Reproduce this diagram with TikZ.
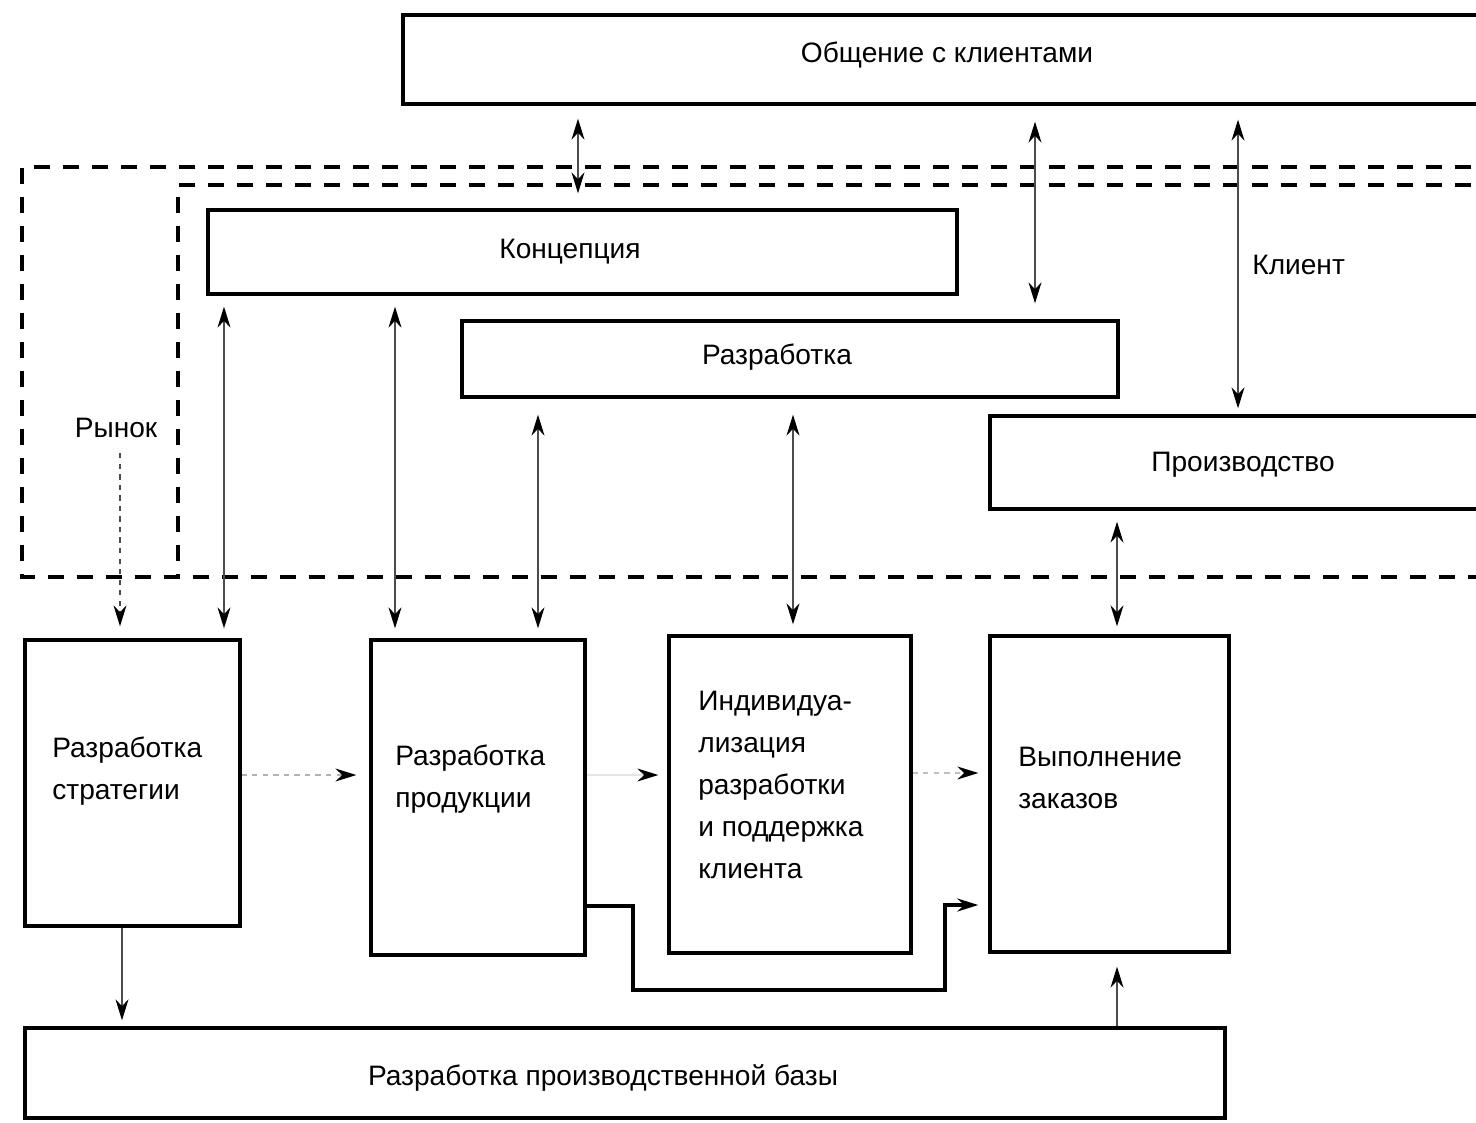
\documentclass[tikz,border=0pt]{standalone}
\usepackage{fontspec}
\setmainfont{Liberation Sans}
\usetikzlibrary{arrows.meta,fit}
\begin{document}
\begin{tikzpicture}[x=0.02cm,y=-0.02cm,
 box/.style={draw=black, line width=1.9pt, inner sep=0pt},
 lbl/.style={font=\fontsize{16}{24}\selectfont, inner sep=0pt, text=black},
 frame/.style={line width=2pt, dash pattern=on 0.32cm off 0.26cm},
 con/.style={draw=gray!60!black, line width=0.7pt},
 onearr/.style={-{Stealth[length=0.42cm,width=0.26cm,black]}},
 twoarr/.style={{Stealth[length=0.42cm,width=0.26cm,black]}-{Stealth[length=0.42cm,width=0.26cm,black]}},
]
\useasboundingbox (0,0) rectangle (1476,1122);
\clip (0,0) rectangle (1476,1122);

% dashed frames
\draw[frame] (1500,167) -- (22,167) -- (22,577) -- (1500,577);
\draw[frame] (1500,185) -- (178,185) -- (178,577);

% boxes
\node[box, fit={(403,15) (1520,104)}] (obsc) {};
\node[box, fit={(208,210) (957,294)}] (konc) {};
\node[box, fit={(462,321) (1118,397)}] (razr) {};
\node[box, fit={(990,416) (1520,509)}] (proizv) {};
\node[box, fit={(25,640) (240,926)}] (strat) {};
\node[box, fit={(371,640) (585,955)}] (prod) {};
\node[box, fit={(669,636) (911,953)}] (indiv) {};
\node[box, fit={(990,636) (1229,952)}] (vyp) {};
\node[box, fit={(25,1028) (1225,1118)}] (baza) {};

% texts
\node[lbl] (tobsc) at (947,55) {Общение с клиентами};
\node[lbl] (tkonc) at (570,252) {Концепция};
\node[lbl] (trazr) at (777,357) {Разработка};
\node[lbl] (tproizv) at (1243,465) {Производство};
\node[lbl, anchor=west] (tklient) at (1252,265) {Клиент};
\node[lbl] (rynok) at (116,428) {Рынок};
\node[lbl, anchor=west, align=left] (tstrat) at (52,771) {Разработка\\стратегии};
\node[lbl, anchor=west, align=left] (tprod) at (395,779) {Разработка\\продукции};
\node[lbl, anchor=west, align=left] (tindiv) at (698,785) {Индивидуа-\\лизация\\разработки\\и поддержка\\клиента};
\node[lbl, anchor=west, align=left] (tvyp) at (1018,778) {Выполнение\\заказов};
\node[lbl] (tbaza) at (603,1078) {Разработка производственной базы};

% vertical connectors
\draw[con, twoarr, shorten <=0.26cm, shorten >=0.3cm] (obsc.south -| 578,0) -- (konc.north -| 578,0);
\draw[con, twoarr, shorten <=0.32cm, shorten >=0.32cm] (obsc.south -| 1035,0) -- (razr.north -| 1035,0);
\draw[con, twoarr, shorten <=0.28cm, shorten >=0.12cm] (obsc.south -| 1238,0) -- (proizv.north -| 1238,0);
\draw[con, dashed, onearr, shorten <=0.3cm, shorten >=0.24cm] (rynok.south -| 120,0) -- (strat.north -| 120,0);
\draw[con, twoarr, shorten <=0.22cm, shorten >=0.2cm] (konc.south -| 224,0) -- (strat.north -| 224,0);
\draw[con, twoarr, shorten <=0.22cm, shorten >=0.2cm] (konc.south -| 395,0) -- (prod.north -| 395,0);
\draw[con, twoarr, shorten <=0.32cm, shorten >=0.2cm] (razr.south -| 538,0) -- (prod.north -| 538,0);
\draw[con, twoarr, shorten <=0.32cm, shorten >=0.2cm] (razr.south -| 793,0) -- (indiv.north -| 793,0);
\draw[con, twoarr, shorten <=0.22cm, shorten >=0.16cm] (proizv.south -| 1117,0) -- (vyp.north -| 1117,0);
\draw[con, onearr, shorten >=0.12cm] (strat.south -| 122,0) -- (baza.north -| 122,0);
\draw[con, onearr, shorten >=0.26cm] (baza.north -| 1117,0) -- (vyp.south -| 1117,0);

% horizontal connectors
\draw[con, dashed, draw=gray!60, onearr, shorten >=0.26cm] (strat.east |- 0,775) -- (prod.west |- 0,775);
\draw[draw=gray!20, line width=0.6pt, onearr, shorten >=0.18cm] (prod.east |- 0,775) -- (indiv.west |- 0,775);
\draw[con, dashed, draw=gray!50, onearr, shorten >=0.2cm] (indiv.east |- 0,773) -- (vyp.west |- 0,773);
\draw[black, line width=1.9pt, onearr, shorten >=0.2cm] (prod.east |- 0,906) -- (633,906) -- (633,990) -- (945,990) -- (945,905) -- (vyp.west |- 0,905);
\end{tikzpicture}
\end{document}
